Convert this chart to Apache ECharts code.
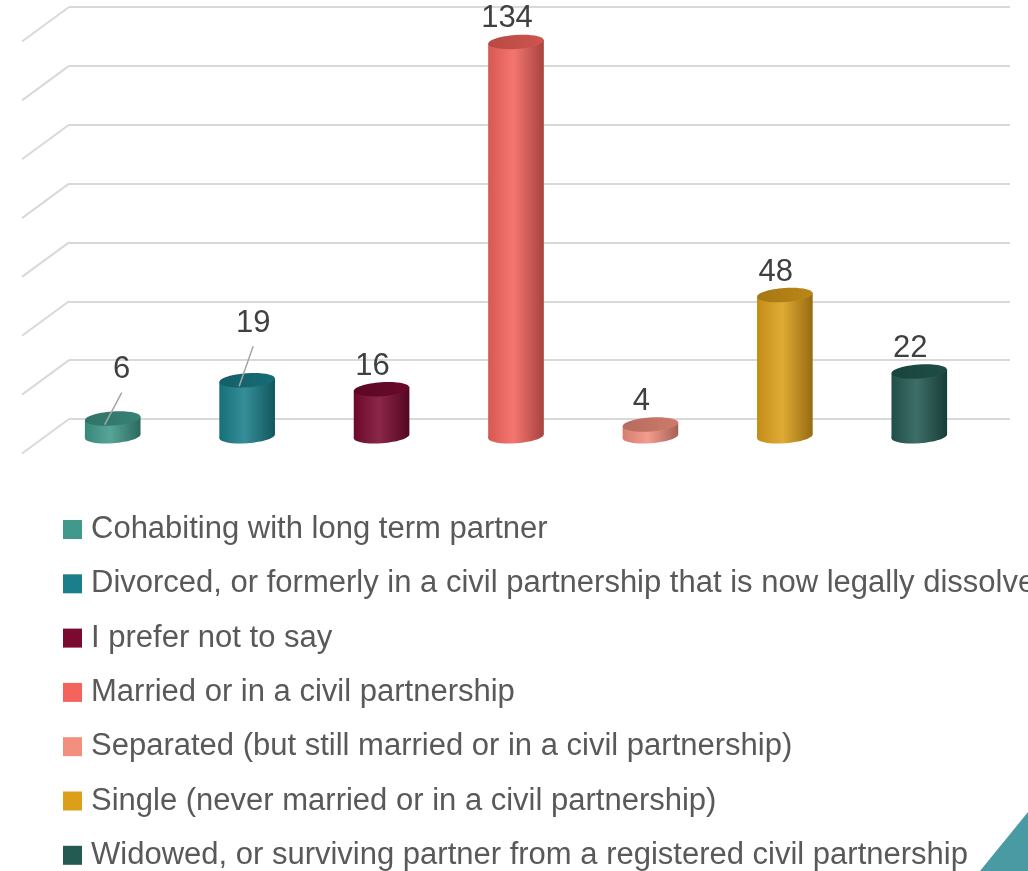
<!DOCTYPE html>
<html>
<head>
<meta charset="utf-8">
<script src="https://cdn.jsdelivr.net/npm/echarts@6/dist/echarts.min.js"></script>
<style>
  html, body { margin: 0; padding: 0; background: #ffffff; }
  #chart { width: 1028px; height: 871px; }
</style>
</head>
<body>
<div id="chart"></div>
<script>
// data
const categories = [
  'Cohabiting with long term partner',
  'Divorced, or formerly in a civil partnership that is now legally dissolved',
  'I prefer not to say',
  'Married or in a civil partnership',
  'Separated (but still married or in a civil partnership)',
  'Single (never married or in a civil partnership)',
  'Widowed, or surviving partner from a registered civil partnership'
];
const counts = [6, 19, 16, 134, 4, 48, 22];
const yTicks = [0, 20, 40, 60, 80, 100, 120, 140];

// styling
const colors = ['#40998a', '#1a7f8a', '#7b0a30', '#f4635c', '#f28f7e', '#dc9f1a', '#235a52'];
const DEPTH_X = -47;
const DEPTH_Y = 34.5;
const FONT = '"Liberation Sans", Arial, sans-serif';
// labels that sit higher with a leader line
const liftedLabels = { 0: [9, -49], 1: [6, -57] };

function shade(hex, amt) {
  const n = parseInt(hex.slice(1), 16);
  let r = (n >> 16) & 255, g = (n >> 8) & 255, b = n & 255;
  const f = c => amt >= 0 ? Math.round(c + (255 - c) * amt) : Math.round(c * (1 + amt));
  return 'rgb(' + f(r) + ',' + f(g) + ',' + f(b) + ')';
}

function renderCylinder(params, api) {
  const i = api.value(0);
  const v = api.value(1);
  const top = api.coord([i, v]);
  const base = api.coord([i, 0]);
  const cx = top[0] + DEPTH_X / 2;
  const topY = top[1] + DEPTH_Y / 2;
  const botY = base[1] + DEPTH_Y / 2;
  const rx = api.size([1, 0])[0] * 0.207;
  const ry = 7;
  const tilt = 0.07;
  const s = rx * Math.sin(tilt);
  const color = api.visual('color');
  const bodyFill = new echarts.graphic.LinearGradient(0, 0, 1, 0, [
    { offset: 0, color: shade(color, -0.12) },
    { offset: 0.45, color: shade(color, 0.12) },
    { offset: 1, color: shade(color, -0.32) }
  ]);
  const children = [
    {
      type: 'ellipse',
      shape: { cx: cx, cy: botY, rx: rx, ry: ry },
      rotation: tilt, originX: cx, originY: botY,
      style: { fill: bodyFill }
    },
    {
      type: 'polygon',
      shape: { points: [[cx - rx, topY + s], [cx + rx, topY - s], [cx + rx, botY - s], [cx - rx, botY + s]] },
      style: { fill: bodyFill }
    },
    {
      type: 'ellipse',
      shape: { cx: cx, cy: topY, rx: rx, ry: ry },
      rotation: tilt, originX: cx, originY: topY,
      style: { fill: new echarts.graphic.LinearGradient(0, 0, 1, 0, [
        { offset: 0, color: shade(color, -0.25) },
        { offset: 1, color: shade(color, -0.15) }
      ]) }
    }
  ];
  const lift = liftedLabels[i];
  const off = lift || [-9, -23];
  const lx = cx + off[0];
  const ly = topY + off[1];
  if (lift) {
    children.push({
      type: 'line',
      shape: { x1: cx - 8, y1: topY + 6, x2: lx, y2: ly + 23 },
      style: { stroke: '#a6a6a6', lineWidth: 1.5 }
    });
  }
  children.push({
    type: 'text',
    x: lx, y: ly,
    style: {
      text: String(v), align: 'center', verticalAlign: 'middle',
      font: '31px ' + FONT, fill: '#404040'
    }
  });
  return { type: 'group', children: children };
}

function renderDepthLine(params, api) {
  const y = api.coord([0, api.value(1)])[1];
  const x = params.coordSys.x;
  return {
    type: 'line',
    shape: { x1: x, y1: y, x2: x + DEPTH_X, y2: y + DEPTH_Y },
    style: { stroke: '#d9d9d9', lineWidth: 2 }
  };
}

const series = [{
  type: 'custom',
  name: 'depth',
  silent: true,
  renderItem: renderDepthLine,
  data: yTicks.map(t => [0, t]),
  z: 1
}];
categories.forEach((name, i) => {
  series.push({
    type: 'custom',
    name: name,
    renderItem: renderCylinder,
    itemStyle: { color: colors[i] },
    data: [[i, counts[i]]],
    z: 2
  });
});

const chart = echarts.init(document.getElementById('chart'));
chart.setOption({
  animation: false,
  backgroundColor: '#ffffff',
  grid: { left: 69, right: 18, top: 7, bottom: 452 },
  xAxis: {
    type: 'category',
    data: categories,
    axisLine: { show: false },
    axisTick: { show: false },
    axisLabel: { show: false },
    splitLine: { show: false }
  },
  yAxis: {
    type: 'value',
    min: 0, max: 140, interval: 20,
    axisLine: { show: false },
    axisTick: { show: false },
    axisLabel: { show: false },
    splitLine: { lineStyle: { color: '#d9d9d9', width: 2 } }
  },
  legend: {
    data: categories,
    orient: 'vertical',
    left: 63, top: 514,
    height: 357,
    padding: 0,
    icon: 'rect',
    itemWidth: 19, itemHeight: 19,
    itemGap: 23.3,
    textStyle: {
      fontFamily: FONT, fontSize: 31, color: '#595959',
      lineHeight: 31, padding: [0, 0, 0, 4]
    }
  },
  graphic: [{
    type: 'polygon',
    shape: { points: [[980, 871], [1028, 812], [1028, 871]] },
    style: { fill: '#4a9aa3' },
    z: 10
  }],
  series: series
});
</script>
</body>
</html>
